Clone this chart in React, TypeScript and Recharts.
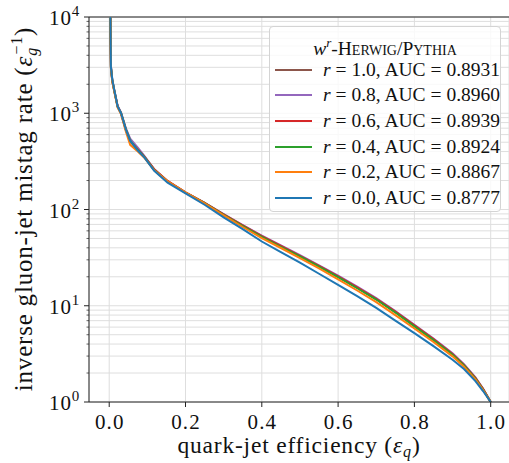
import React from "react"
import {
  LineChart, Line, XAxis, YAxis, CartesianGrid, ReferenceLine, Legend,
} from "recharts"

const FONT = "'Liberation Serif', 'Times New Roman', serif"

// quark-jet efficiency sample points
const effQ = [0.003, 0.0045, 0.008, 0.013, 0.022, 0.031, 0.044, 0.055, 0.075, 0.092, 0.118, 0.153, 0.2, 0.25, 0.3, 0.35, 0.4, 0.45, 0.5, 0.55, 0.6, 0.65, 0.7, 0.75, 0.8, 0.85, 0.9, 0.93, 0.96, 0.98, 1.0]

// inverse gluon mistag rate for each reweighting r
const r10 = [10000, 3050, 2200, 1750, 1180, 1005, 680, 530, 425, 355, 258, 196, 150, 117, 88.5, 67.8, 52.7, 41.5, 32.8, 25.8, 20.0, 15.4, 11.7, 8.6, 6.2, 4.45, 3.12, 2.41, 1.76, 1.36, 1]
const r08 = [10000, 3100, 2250, 1780, 1200, 1020, 690, 545, 440, 360, 262, 197, 151, 117.5, 89.5, 68.8, 53.5, 42.3, 33.5, 26.3, 20.5, 15.8, 12.0, 8.8, 6.35, 4.55, 3.2, 2.47, 1.8, 1.37, 1]
const r06 = [10000, 2950, 2150, 1720, 1180, 990, 660, 510, 420, 355, 262, 198, 151, 117, 89, 68.3, 53, 41.8, 33, 26, 20.2, 15.5, 11.8, 8.7, 6.25, 4.5, 3.15, 2.43, 1.78, 1.37, 1]
const r04 = [10000, 3000, 2200, 1740, 1170, 1000, 670, 520, 415, 352, 257, 195, 150, 116.5, 88, 67.3, 52, 41, 32.5, 25.5, 19.8, 15.2, 11.6, 8.5, 6.1, 4.4, 3.1, 2.4, 1.75, 1.35, 1]
const r02 = [10000, 2900, 2150, 1700, 1150, 980, 640, 470, 400, 345, 255, 196, 151, 116, 87, 65.8, 50.5, 39.8, 31.3, 24.5, 18.8, 14.4, 10.9, 8.0, 5.8, 4.2, 2.98, 2.33, 1.72, 1.33, 1]
const r00 = [10000, 3000, 2250, 1760, 1180, 1000, 670, 515, 410, 348, 252, 190, 147, 112, 83, 62.5, 46.5, 36, 28, 21.5, 16.5, 12.6, 9.5, 7.0, 5.2, 3.8, 2.75, 2.2, 1.65, 1.3, 1]

const rLabels = ["1.0", "0.8", "0.6", "0.4", "0.2", "0.0"]
const aucs = ["0.8931", "0.8960", "0.8939", "0.8924", "0.8867", "0.8777"]
const colors = ["#8c564b", "#9467bd", "#d62728", "#2ca02c", "#ff7f0e", "#1f77b4"]
const keys = ["r10", "r08", "r06", "r04", "r02", "r00"]

const xTicks = [0, 0.2, 0.4, 0.6, 0.8, 1.0]
const majorY = [1, 10, 100, 1000, 10000]
const minorY = [1, 10, 100, 1000].flatMap((d) => [2, 3, 4, 5, 6, 7, 8, 9].map((m) => m * d))

const data = effQ.map((x, i) => ({
  x, r10: r10[i], r08: r08[i], r06: r06[i], r04: r04[i], r02: r02[i], r00: r00[i],
}))

function YTick(props: any) {
  const { x, y, payload } = props
  const v = payload.value
  const exp = Math.round(Math.log10(v))
  if (!majorY.includes(v)) {
    return <line x1={x} x2={x - 2.5} y1={y} y2={y} stroke="#222" strokeWidth={0.7} />
  }
  return (
    <g>
      <line x1={x} x2={x - 5} y1={y} y2={y} stroke="#222" strokeWidth={1} />
      <text x={x - 9} y={y + 8} textAnchor="end" fontFamily={FONT} fontSize={21} fill="#111" letterSpacing={0.8}>
        10<tspan dy={-9} fontSize={15}>{exp}</tspan>
      </text>
    </g>
  )
}

function XTick(props: any) {
  const { x, y, payload } = props
  return (
    <text x={x + 0.6} y={y + 20} textAnchor="middle" fontFamily={FONT} fontSize={21} fill="#111" letterSpacing={1.2}>
      {payload.value.toFixed(1)}
    </text>
  )
}

function XLabel(props: any) {
  const vb = props.viewBox
  return (
    <text x={vb.x + vb.width / 2} y={453} textAnchor="middle" fontFamily={FONT} fontSize={23.5} fill="#111" letterSpacing={0.8}>
      quark-jet efficiency (<tspan fontStyle="italic">ε</tspan>
      <tspan fontStyle="italic" fontSize={16} dy={4}>q</tspan>
      <tspan dy={-4}>)</tspan>
    </text>
  )
}

function YLabel() {
  return (
    <text transform="rotate(-90)" x={-209} y={32} textAnchor="middle" fontFamily={FONT} fontSize={25} fill="#111" letterSpacing={0.8}>
      inverse gluon-jet mistag rate (<tspan fontStyle="italic">ε</tspan>
      <tspan fontStyle="italic" fontSize={16} dy={5}>g</tspan>
      <tspan fontSize={16} dx={-7.5} dy={-15}>−1</tspan>
      <tspan dy={10}>)</tspan>
    </text>
  )
}

function LegendBox() {
  return (
    <div style={{
      boxSizing: "border-box", width: 232, height: 186, border: "1px solid #d4d4d4",
      borderRadius: 4, background: "rgba(255,255,255,0.8)", fontFamily: FONT, color: "#111",
    }}>
      <div style={{ textAlign: "center", fontSize: 19.5, lineHeight: "26px", marginTop: 3, height: 27 }}>
        <i>w</i><sup style={{ fontSize: 13, fontStyle: "italic" }}>r</sup>
        <span style={{ fontVariant: "small-caps" }}>-Herwig/Pythia</span>
      </div>
      {rLabels.map((r, i) => (
        <div key={r} style={{ display: "flex", alignItems: "center", height: 25.6 }}>
          <span style={{ display: "inline-block", width: 38, height: 2, background: colors[i], marginLeft: 5 }} />
          <span style={{ marginLeft: 11, fontSize: 19.5, whiteSpace: "nowrap" }}>
            <i>r</i> = {r}, AUC = {aucs[i]}
          </span>
        </div>
      ))}
    </div>
  )
}

export default function App() {
  return (
    <div style={{ position: "absolute", left: 0, top: 0, background: "#fff" }}>
      <LineChart width={509} height={463} data={data} margin={{ top: 17, right: 0, bottom: 0, left: 0 }}>
        <CartesianGrid stroke="#dedede" strokeWidth={1} />
        <XAxis
          dataKey="x" type="number" domain={[-0.053, 1.048]} ticks={xTicks}
          allowDataOverflow height={61} stroke="#222" tickSize={5} tick={<XTick />}
          label={<XLabel />}
        />
        <YAxis
          scale="log" domain={[1, 10000]} allowDataOverflow ticks={[...majorY, ...minorY]}
          width={89} stroke="#222" tickLine={false} tickSize={0} tickMargin={0}
          tick={<YTick />} interval={0} label={<YLabel />}
        />
        <ReferenceLine y={10000} stroke="#222" strokeWidth={1} />
        {keys.map((k, i) => (
          <Line key={k} dataKey={k} type="linear" stroke={colors[i]} strokeWidth={2}
            dot={false} isAnimationActive={false} />
        ))}
        <Legend layout="vertical" align="center" verticalAlign="middle"
          wrapperStyle={{ position: "absolute", left: 269, top: 26, width: 232, height: 186 }}
          content={<LegendBox />} />
      </LineChart>
    </div>
  )
}
